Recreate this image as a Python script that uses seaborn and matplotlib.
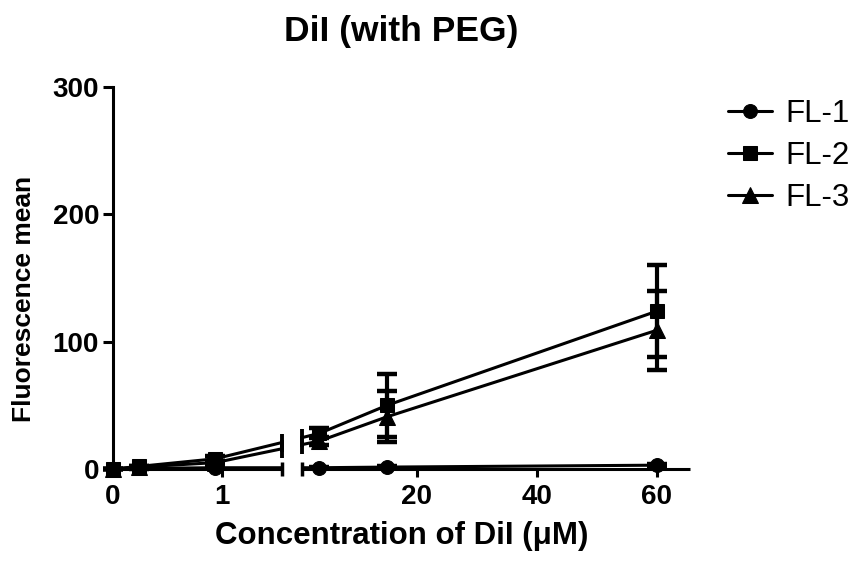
import numpy as np
import pandas as pd
import matplotlib
matplotlib.use("Agg")
import matplotlib.pyplot as plt
import matplotlib.transforms as mtransforms
from matplotlib.patches import Rectangle
import seaborn as sns

# ---- data ----
conc = [0, 0.234, 0.9375, 3.75, 15, 60]
series = ["FL-1", "FL-2", "FL-3"]
fl1 = [0, 0.5, 1.0, 1.0, 1.5, 3.0]
fl1_sd = [0, 0.2, 0.3, 0.3, 0.5, 1.0]
fl2 = [0, 2, 8, 28, 50, 124]
fl2_sd = [0, 0.5, 2, 4, 25, 36]
fl3 = [0, 1.5, 5, 22, 41, 109]
fl3_sd = [0, 0.5, 1.5, 3, 20, 31]
xticks = [0, 1, 20, 40, 60]
yticks = [0, 100, 200, 300]

title = "DiI (with PEG)"
xlabel = "Concentration of DiI (\u03bcM)"
ylabel = "Fluorescence mean"

# ---- broken x scale (Prism style) ----
BREAK_X = 1.55          # end of left segment (data)
R_OFF = 1.688           # offset of right segment in scale units
R_K = 6.0 / 109.0       # compression of right segment
GAP_R_U = 1.734         # start of right axis segment (scale units)
X_MAX = 65.5


def fwd(x):
    x = np.asarray(x, dtype=float)
    return np.where(x <= BREAK_X, x, R_OFF + x * R_K)


def inv(u):
    u = np.asarray(u, dtype=float)
    return np.where(u <= BREAK_X, u,
                    np.where(u < R_OFF + BREAK_X * R_K, BREAK_X, (u - R_OFF) / R_K))


sns.set_style("ticks")
plt.rcParams["font.family"] = ["Liberation Sans", "DejaVu Sans"]
plt.rcParams.update({"text.color": "black", "axes.labelcolor": "black",
                     "xtick.color": "black", "ytick.color": "black",
                     "axes.edgecolor": "black"})

fig = plt.figure(figsize=(8.63, 5.72), dpi=100)
ax = fig.add_axes([113 / 863, 1 - 469 / 572, 577 / 863, 382 / 572])

LW = 2.2
vals = [fl1, fl2, fl3]
sds = [fl1_sd, fl2_sd, fl3_sd]
markers = ["o", "s", "^"]
msizes = [10, 10, 11]

for name, v, sd, mk, ms in zip(series, vals, sds, markers, msizes):
    df = pd.DataFrame({"conc": conc, "val": v})
    sns.lineplot(data=df, x="conc", y="val", ax=ax, color="black", lw=LW,
                 marker=mk, markersize=ms, markeredgecolor="black",
                 markerfacecolor="black", label=name, errorbar=None,
                 clip_on=False, zorder=3)
    ax.errorbar(conc, v, yerr=sd, fmt="none", ecolor="black", elinewidth=3,
                capsize=7, capthick=3.2, clip_on=False, zorder=3)

ax.set_xscale("function", functions=(fwd, inv))
ax.set_xlim(0, X_MAX)
ax.set_ylim(0, 300)

# gap positions in axes fraction
u_max = float(fwd(X_MAX))
fL = BREAK_X / u_max
fR = GAP_R_U / u_max
blend = mtransforms.blended_transform_factory(ax.transAxes, ax.transData)

# white gap
ax.add_patch(Rectangle((fL, -0.05), fR - fL, 1.1, transform=ax.transAxes,
                       facecolor="white", edgecolor="none", zorder=5, clip_on=False))

# break marks on the lines crossing the gap
u_pts = fwd(conc)
for v in [fl2, fl3]:
    for uu, ff in [(BREAK_X, fL), (GAP_R_U, fR)]:
        yy = np.interp(uu, u_pts, v)
        ax.plot([ff], [yy], marker="|", markersize=13, mew=2.8, color="black",
                transform=blend, clip_on=False, zorder=6)

# broken x axis line
ax.spines["bottom"].set_visible(False)
ax.spines["top"].set_visible(False)
ax.spines["right"].set_visible(False)
ax.spines["left"].set_linewidth(LW)
ax.spines["left"].set_bounds(0, 300)
ax.plot([0, fL], [0, 0], color="black", lw=LW, transform=blend, clip_on=False,
        zorder=6, solid_capstyle="butt")
ax.plot([fR, 1], [0, 0], color="black", lw=LW, transform=blend, clip_on=False,
        zorder=6, solid_capstyle="butt")
for ff in (fL, fR):
    ax.plot([ff], [0], marker="|", markersize=10, mew=2.5, color="black",
            transform=blend, clip_on=False, zorder=6)

ax.set_xlim(0, X_MAX)
ax.set_ylim(0, 300)

ax.set_xticks(xticks)
ax.set_xticklabels([str(t) for t in xticks])
ax.set_yticks(yticks)
ax.set_yticklabels([str(t) for t in yticks])
ax.minorticks_off()
ax.tick_params(axis="x", length=6, width=LW, pad=5, labelsize=20, color="black")
ax.tick_params(axis="y", length=7, width=LW, pad=3, labelsize=20, color="black")
for lab in ax.get_xticklabels() + ax.get_yticklabels():
    lab.set_fontweight("bold")

ax.set_xlabel(xlabel, fontsize=22.5, fontweight="bold")
ax.xaxis.set_label_coords(0.5, -0.135)
ax.set_ylabel(ylabel, fontsize=19, fontweight="bold")
ax.yaxis.set_label_coords(-0.134, 0.445)

ax.set_title(title, fontsize=25.5, fontweight="bold", y=(469 - 31) / 382,
             va="center", pad=0)

handles, labels = ax.get_legend_handles_labels()
ax.legend(handles[:3], labels[:3], loc="center left",
          bbox_to_anchor=(728 / 863, 1 - 156 / 572), bbox_transform=fig.transFigure,
          frameon=False, fontsize=22.5, handlelength=1.4, handletextpad=0.45,
          labelspacing=0.38, borderpad=0, borderaxespad=0)

fig.savefig("out.png", dpi=100)
